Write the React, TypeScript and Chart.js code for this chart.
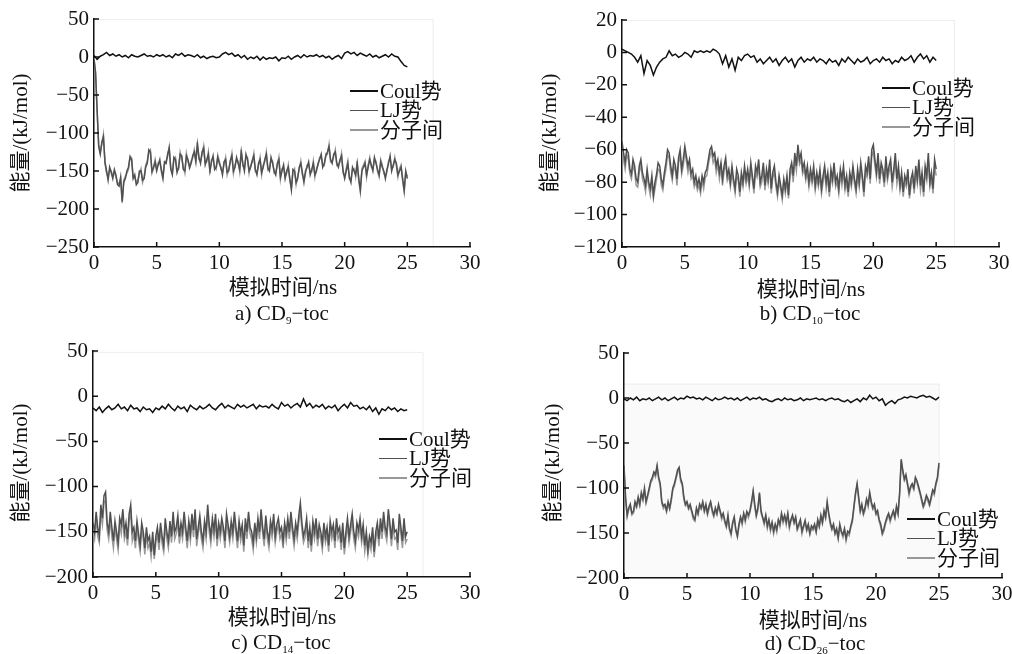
import React, { useEffect, useRef } from "react";
import { Chart, registerables } from "chart.js";

Chart.register(...registerables);

// ---------- sampling grids (ns) ----------
const TIME_COARSE: number[] = Array.from({ length: 101 }, (_, i) => i * 0.25); // Coul series
const TIME_FINE: number[] = Array.from({ length: 201 }, (_, i) => i * 0.125); // LJ / 分子间 series

const SERIES_NAMES = ["Coul势", "LJ势", "分子间"];
const X_TICKS = [0, 5, 10, 15, 20, 25, 30];
const Y_TICKS_A = [50, 0, -50, -100, -150, -200, -250];
const Y_TICKS_B = [20, 0, -20, -40, -60, -80, -100, -120];
const Y_TICKS_C = [50, 0, -50, -100, -150, -200];
const Y_TICKS_D = [50, 0, -50, -100, -150, -200];

// ---------- a) CD9-toc ----------
const COUL_A = [
  2, -3, 1, 3, 6, 2, 4, 1, 3, 0, 2, -1, 3, 1, 0, 2, 4, 1, 2, 0, 3,
  1, 3, 0, 2, -1, 4, 2, 5, 1, 3, 2, 0, 3, -1, 1, -2, 0, 1, -1, 0,
  4, 6, 3, 5, 1, 3, -1, 2, -3, 0, -2, 1, -4, 0, -3, -1, -2, 0, -5, -1,
  -2, 1, -3, 0, 2, -1, 3, 0, 2, 1, 3, 0, 2, -1, 1, -3, 0, 2, -2, 5,
  7, 4, 6, 2, 5, 3, 1, 4, 0, 2, -1, 1, 3, 0, 4, 1, 0, -6, -11, -13,
];
const LJ_A = [
  -3, -20, -70, -118, -128, -112, -105, -138, -150, -162, -145, -152, -160, -148, -155, -168, -170, -158, -190, -165,
  -160, -150, -145, -132, -135, -160, -155, -168, -165, -150, -150, -162, -160, -145, -140, -122, -125, -150, -145, -138, -150,
  -142, -135, -150, -160, -138, -140, -128, -120, -148, -155, -132, -135, -152, -145, -128, -130, -148, -150, -130, -135,
  -146, -140, -130, -125, -138, -115, -132, -140, -125, -120, -142, -135, -128, -150, -138, -130, -148, -145, -132, -140,
  -145, -155, -138, -135, -152, -150, -136, -130, -150, -145, -132, -140, -148, -125, -140, -150, -128, -135, -150, -145,
  -136, -130, -148, -155, -140, -135, -152, -145, -135, -128, -146, -150, -132, -140, -150, -155, -140, -135, -158, -150,
  -142, -160, -150, -145, -160, -175, -148, -150, -165, -160, -145, -140, -152, -165, -150, -145, -138, -155, -148, -140,
  -155, -150, -140, -135, -128, -145, -140, -130, -125, -118, -135, -140, -128, -125, -140, -145, -135, -130, -150, -160,
  -150, -140, -158, -165, -145, -150, -155, -140, -160, -175, -150, -145, -140, -155, -145, -135, -142, -150, -132, -140,
  -148, -155, -138, -145, -150, -160, -148, -140, -130, -150, -142, -135, -140, -155, -150, -145, -160, -175, -150, -160,
];
const INTER_A = [
  -1, -22, -72, -115, -125, -115, -102, -140, -152, -158, -148, -150, -157, -151, -158, -165, -167, -161, -192, -162,
  -157, -153, -148, -130, -133, -158, -158, -165, -162, -153, -147, -165, -158, -142, -137, -125, -122, -153, -147, -135, -147,
  -139, -138, -147, -157, -141, -137, -131, -118, -145, -152, -135, -132, -149, -148, -125, -133, -145, -153, -127, -138,
  -143, -137, -133, -122, -135, -112, -135, -137, -128, -117, -139, -138, -125, -153, -135, -133, -145, -148, -129, -137,
  -148, -152, -141, -132, -155, -147, -139, -127, -153, -142, -135, -137, -151, -122, -143, -147, -131, -132, -153, -142,
  -139, -127, -151, -152, -143, -132, -155, -142, -138, -125, -149, -147, -135, -137, -153, -152, -143, -132, -161, -147,
  -145, -157, -153, -142, -163, -172, -151, -147, -168, -157, -148, -137, -155, -162, -153, -142, -141, -152, -151, -137,
  -158, -147, -143, -132, -131, -142, -143, -127, -128, -115, -138, -137, -131, -122, -143, -142, -138, -127, -153, -157,
  -147, -137, -161, -162, -148, -147, -158, -137, -163, -178, -147, -142, -137, -158, -142, -132, -145, -147, -135, -137,
  -151, -158, -135, -142, -153, -157, -151, -137, -133, -147, -145, -132, -143, -158, -147, -142, -163, -178, -153, -157,
];

// ---------- b) CD10-toc ----------
const COUL_B = [
  2, 1, 0, -1, -3, -6, -2, -13, -5, -8, -14, -9, -6, -4, -3, 1, -2, -1, -3, -2, 0,
  -1, -3, 1, 0, 1, 0, 1, 0, 2, 1, -1, -7, -2, -9, -4, -11, -3, -5, -2, -1,
  -3, -2, -6, -4, -7, -5, -3, -6, -4, -8, -5, -3, -6, -4, -9, -5, -3, -6, -4, -5,
  -3, -6, -4, -5, -7, -4, -6, -5, -8, -4, -6, -3, -5, -7, -4, -6, -5, -3, -7, -5,
  -4, -6, -3, -5, -4, -7, -5, -6, -3, -5, -4, -2, -6, -3, -1, -4, -2, -6, -3, -5,
];
const LJ_B = [
  -55, -62, -68, -60, -62, -72, -75, -66, -70, -78, -80, -70, -66, -74, -78, -82, -72, -80, -84, -76,
  -88, -80, -75, -68, -70, -78, -82, -74, -68, -60, -62, -70, -76, -66, -70, -78, -65, -60, -72, -66, -58,
  -64, -70, -66, -75, -72, -80, -76, -82, -78, -84, -76, -80, -74, -72, -66, -60, -58, -64, -62, -70,
  -66, -74, -68, -78, -70, -65, -76, -72, -80, -70, -78, -84, -72, -76, -86, -74, -80, -70, -78, -72,
  -80, -68, -76, -84, -70, -74, -66, -80, -76, -68, -82, -72, -78, -66, -84, -74, -70, -80, -86, -76,
  -82, -88, -78, -84, -76, -88, -72, -68, -76, -62, -70, -57, -66, -62, -72, -68, -76, -70, -80, -72,
  -78, -70, -82, -74, -80, -72, -84, -76, -70, -80, -74, -86, -72, -78, -68, -80, -76, -84, -72, -78,
  -70, -82, -76, -86, -74, -80, -70, -78, -84, -72, -80, -68, -76, -86, -70, -74, -64, -78, -60, -57,
  -66, -74, -62, -78, -68, -72, -80, -64, -76, -70, -66, -80, -72, -62, -78, -70, -82, -74, -86, -76,
  -80, -72, -88, -78, -74, -84, -70, -78, -66, -82, -74, -86, -70, -76, -62, -80, -74, -84, -66, -72,
];
const INTER_B = [
  -58, -66, -72, -63, -66, -75, -78, -70, -73, -82, -83, -74, -69, -78, -81, -86, -75, -83, -88, -79,
  -90, -84, -78, -72, -73, -82, -85, -77, -72, -63, -65, -74, -79, -70, -73, -82, -68, -64, -75, -70, -61,
  -67, -74, -69, -78, -76, -83, -80, -85, -82, -87, -79, -84, -77, -76, -69, -64, -61, -68, -65, -74,
  -69, -78, -71, -82, -73, -69, -79, -76, -83, -74, -81, -87, -76, -79, -89, -78, -83, -74, -81, -76,
  -83, -72, -79, -87, -74, -77, -70, -83, -80, -71, -85, -76, -81, -70, -87, -77, -74, -83, -89, -79,
  -85, -91, -81, -87, -79, -90, -76, -71, -80, -66, -73, -61, -69, -66, -75, -72, -79, -74, -83, -76,
  -81, -74, -85, -78, -83, -76, -87, -80, -73, -84, -77, -89, -76, -81, -72, -83, -80, -87, -75, -82,
  -74, -85, -80, -89, -78, -83, -74, -81, -87, -76, -83, -72, -79, -89, -74, -77, -68, -81, -64, -61,
  -70, -77, -66, -81, -72, -75, -83, -68, -79, -74, -70, -83, -76, -66, -81, -74, -85, -78, -89, -80,
  -83, -76, -90, -82, -77, -87, -74, -81, -70, -85, -78, -89, -74, -79, -66, -83, -78, -87, -70, -76,
];

// ---------- c) CD14-toc ----------
const COUL_C = [
  -13, -16, -12, -18, -14, -11, -15, -13, -9, -14, -12, -16, -10, -14, -13, -17, -12, -15, -14, -18, -13,
  -15, -11, -14, -9, -13, -16, -11, -14, -12, -17, -10, -13, -15, -11, -14, -12, -9, -13, -15, -11,
  -8, -13, -10, -12, -14, -9, -12, -10, -13, -11, -9, -14, -10, -12, -11, -13, -9, -12, -14, -7,
  -11, -9, -13, -10, -8, -12, -3, -11, -8, -13, -10, -12, -9, -14, -11, -13, -10, -16, -12, -9,
  -13, -7, -11, -10, -14, -12, -15, -11, -17, -13, -20, -14, -16, -12, -15, -13, -17, -14, -16, -15,
];
const LJ_C = [
  -140, -150, -128, -145, -155, -120, -135, -110, -106, -140, -150, -128, -145, -160, -138, -150, -162, -135, -142, -125,
  -150, -140, -158, -130, -120, -150, -145, -160, -138, -152, -165, -140, -150, -168, -145, -160, -155, -172, -150, -176, -155,
  -145, -162, -140, -155, -165, -135, -150, -160, -138, -155, -128, -150, -145, -132, -155, -140, -150, -128, -145, -160,
  -138, -152, -130, -148, -125, -158, -145, -132, -150, -160, -138, -150, -120, -142, -155, -135, -148, -130, -158, -140,
  -150, -135, -145, -160, -130, -142, -155, -138, -150, -128, -145, -160, -138, -152, -142, -165, -135, -150, -128, -145,
  -150, -162, -140, -155, -135, -150, -125, -145, -158, -132, -150, -160, -138, -148, -130, -155, -142, -135, -150, -145,
  -160, -140, -152, -135, -150, -128, -145, -158, -140, -150, -132, -118, -140, -155, -148, -135, -160, -145, -165, -138,
  -150, -135, -158, -142, -150, -162, -140, -155, -145, -165, -138, -150, -142, -160, -135, -150, -145, -162, -140, -168,
  -150, -135, -155, -142, -130, -150, -160, -140, -148, -135, -155, -142, -165, -150, -170, -155, -162, -145, -172, -150,
  -140, -158, -135, -150, -128, -145, -152, -125, -140, -158, -135, -150, -148, -162, -130, -145, -160, -135, -155, -150,
];
const INTER_C = [
  -150, -158, -135, -155, -162, -130, -142, -118, -115, -148, -158, -136, -155, -168, -146, -158, -170, -142, -152, -133,
  -158, -150, -165, -138, -128, -160, -152, -168, -146, -160, -172, -148, -158, -175, -152, -168, -163, -178, -158, -180, -162,
  -153, -170, -147, -163, -172, -143, -158, -168, -146, -162, -136, -158, -152, -140, -163, -148, -158, -136, -152, -168,
  -146, -160, -138, -156, -133, -166, -152, -140, -158, -168, -146, -158, -128, -150, -163, -143, -156, -138, -166, -148,
  -158, -143, -152, -168, -138, -150, -162, -146, -158, -136, -152, -168, -146, -160, -150, -172, -143, -158, -136, -152,
  -158, -170, -148, -162, -143, -158, -133, -152, -166, -140, -158, -168, -146, -156, -138, -162, -150, -143, -158, -152,
  -168, -148, -160, -143, -158, -136, -152, -166, -148, -158, -140, -126, -148, -162, -156, -143, -168, -152, -172, -146,
  -158, -143, -166, -150, -158, -170, -148, -162, -153, -172, -146, -158, -150, -168, -143, -158, -152, -170, -148, -175,
  -158, -143, -162, -150, -138, -158, -168, -148, -156, -143, -162, -150, -172, -158, -176, -162, -170, -152, -178, -158,
  -148, -166, -143, -158, -136, -152, -160, -133, -148, -166, -143, -158, -156, -170, -138, -152, -168, -143, -162, -158,
];

// ---------- d) CD26-toc ----------
const COUL_D = [
  -1, -3, 0, -2, 1, -3, -1, -2, 0, -3, -1, 1, -2, 0, -3, -1, 1, -2, 0, -1, 2,
  0, 1, -1, 0, -2, 1, -1, -3, 0, -2, -1, 1, -1, 0, -2, 0, -3, -1, 1, -2,
  0, -1, 1, -2, -1, -3, -4, -2, -1, -3, 0, -2, -1, -3, -2, 0, -3, -1, -2, -1,
  0, -2, -1, -3, -1, 0, -2, -1, -3, -4, -2, -5, -3, -1, -4, 0, -2, 3, -1, 1,
  -3, -1, -8, -5, -3, -6, -2, -1, 1, 0, 2, 1, 0, 2, 3, 1, 2, 0, -2, 1,
];
const LJ_D = [
  -75, -110, -130, -122, -118, -128, -126, -115, -120, -110, -118, -105, -112, -100, -115, -108, -100, -92, -88, -82,
  -85, -75, -88, -95, -115, -120, -118, -125, -115, -122, -112, -100, -95, -88, -80, -77, -90, -95, -110, -118, -115,
  -122, -118, -125, -132, -135, -122, -128, -118, -122, -115, -125, -118, -128, -120, -115, -124, -130, -122, -128, -118,
  -125, -132, -128, -136, -142, -130, -145, -150, -138, -132, -146, -153, -140, -132, -138, -128, -135, -126, -130, -125,
  -115, -103, -118, -130, -122, -105, -125, -132, -138, -130, -142, -135, -145, -138, -148, -140, -146, -135, -140, -128,
  -136, -130, -138, -128, -142, -135, -130, -138, -132, -145, -140, -135, -148, -142, -136, -146, -140, -150, -142, -145,
  -140, -148, -135, -142, -130, -138, -125, -132, -115, -128, -138, -145, -140, -150, -145, -155, -140, -148, -152, -145,
  -156, -148, -150, -142, -135, -120, -105, -95, -110, -125, -118, -128, -122, -112, -118, -105, -115, -122, -118, -128,
  -125, -135, -140, -150, -145, -138, -132, -128, -135, -130, -125, -132, -120, -128, -105, -68, -80, -90, -85, -95,
  -105, -98, -95, -100, -88, -92, -98, -105, -112, -120, -115, -108, -112, -118, -110, -102, -105, -95, -88, -72,
];
const INTER_D = [
  -78, -113, -132, -124, -121, -130, -128, -118, -122, -113, -120, -108, -114, -103, -117, -110, -103, -94, -91, -84,
  -88, -77, -90, -98, -117, -123, -120, -127, -118, -124, -115, -102, -98, -90, -83, -79, -93, -97, -113, -120, -118,
  -124, -121, -127, -135, -137, -125, -130, -121, -124, -118, -127, -121, -130, -123, -117, -127, -132, -125, -130, -121,
  -127, -135, -130, -139, -144, -133, -147, -153, -140, -135, -148, -155, -143, -134, -141, -130, -138, -128, -133, -127,
  -118, -105, -121, -132, -125, -107, -128, -134, -141, -132, -145, -137, -148, -140, -151, -142, -149, -137, -143, -130,
  -139, -132, -141, -130, -145, -137, -133, -140, -135, -147, -143, -137, -151, -144, -139, -148, -143, -152, -145, -147,
  -143, -150, -138, -144, -133, -140, -128, -134, -118, -130, -141, -147, -143, -152, -148, -157, -143, -150, -155, -147,
  -159, -150, -153, -144, -138, -122, -108, -97, -113, -127, -121, -130, -125, -114, -121, -107, -118, -124, -121, -130,
  -128, -137, -143, -152, -148, -140, -135, -130, -138, -132, -128, -134, -123, -130, -108, -70, -83, -92, -88, -97,
  -108, -100, -98, -102, -91, -94, -101, -107, -115, -122, -118, -110, -115, -120, -113, -104, -108, -97, -91, -75,
];

// ---------- styles ----------
const SERIF = "'Liberation Serif', 'Times New Roman', 'Noto Sans CJK SC', serif";
const MIXED = "'Liberation Serif', 'Noto Sans CJK SC', serif";
const COLORS = ["#111111", "#505050", "#989898"];
const LINE_WIDTHS = [1.5, 1.5, 1.5];
const FONT_SIZE = 21;

type Panel = {
  left: number; top: number; width: number; height: number;
  pad: { left: number; right: number; top: number; bottom: number };
  yTicks: number[]; yStep: number;
  series: number[][];
  frame: { xMax: number; yMax: number; fill: string };
  legend: { x: number; y: number };
  xTitle: { cx: number; cy: number };
  yTitle: { cx: number; cy: number };
  caption: { cx: number; cy: number; pre: string; sub: string };
};

const PANELS: Panel[] = [
  {
    left: 0, top: 0, width: 500, height: 330,
    pad: { left: 34, right: 30, top: 19, bottom: 53 },
    yTicks: Y_TICKS_A, yStep: 50,
    series: [COUL_A, LJ_A, INTER_A],
    frame: { xMax: 27.1, yMax: 50, fill: "#ffffff" },
    legend: { x: 350, y: 91 },
    xTitle: { cx: 283, cy: 287 },
    yTitle: { cx: 20, cy: 133 },
    caption: { cx: 282, cy: 313, pre: "a) ", sub: "9" },
  },
  {
    left: 500, top: 0, width: 512, height: 330,
    pad: { left: 62, right: 13, top: 20, bottom: 53 },
    yTicks: Y_TICKS_B, yStep: 20,
    series: [COUL_B, LJ_B, INTER_B],
    frame: { xMax: 26.5, yMax: 20, fill: "#ffffff" },
    legend: { x: 882, y: 88 },
    xTitle: { cx: 811, cy: 289 },
    yTitle: { cx: 549, cy: 133 },
    caption: { cx: 810, cy: 313, pre: "b) ", sub: "10" },
  },
  {
    left: 0, top: 330, width: 500, height: 324,
    pad: { left: 33, right: 30, top: 21, bottom: 47 },
    yTicks: Y_TICKS_C, yStep: 50,
    series: [COUL_C, LJ_C, INTER_C],
    frame: { xMax: 26.3, yMax: 49, fill: "#ffffff" },
    legend: { x: 379, y: 439 },
    xTitle: { cx: 282, cy: 617 },
    yTitle: { cx: 20, cy: 463 },
    caption: { cx: 281, cy: 642, pre: "c) ", sub: "14" },
  },
  {
    left: 500, top: 330, width: 512, height: 324,
    pad: { left: 64, right: 10, top: 23, bottom: 46 },
    yTicks: Y_TICKS_D, yStep: 50,
    series: [COUL_D, LJ_D, INTER_D],
    frame: { xMax: 25.05, yMax: 16, fill: "#fafafa" },
    legend: { x: 907, y: 519 },
    xTitle: { cx: 813, cy: 620 },
    yTitle: { cx: 552, cy: 463 },
    caption: { cx: 815, cy: 643, pre: "d) ", sub: "26" },
  },
];

const fmt = (v: number | string) => {
  const n = Number(v);
  return n < 0 ? "\u2212" + Math.abs(n) : String(n);
};

const decorPlugin = {
  id: "decor",
  beforeDraw(chart: any, _args: any, opts: any) {
    const { ctx, scales } = chart;
    const x = scales.x, y = scales.y;
    const fr = opts.frame;
    if (!fr) return;
    const l = x.getPixelForValue(0), r = x.getPixelForValue(fr.xMax);
    const t = y.getPixelForValue(fr.yMax), b = y.bottom;
    ctx.save();
    ctx.fillStyle = fr.fill;
    ctx.fillRect(l, t, r - l, b - t);
    ctx.strokeStyle = "#ededed";
    ctx.lineWidth = 1;
    ctx.beginPath();
    ctx.moveTo(l, t + 0.5);
    ctx.lineTo(r - 0.5, t + 0.5);
    ctx.lineTo(r - 0.5, b);
    ctx.stroke();
    ctx.restore();
  },
  afterDraw(chart: any) {
    const { ctx, scales } = chart;
    const x = scales.x, y = scales.y;
    ctx.save();
    ctx.strokeStyle = "#111";
    ctx.lineWidth = 1.5;
    ctx.beginPath();
    x.ticks.forEach((tk: any) => {
      const px = x.getPixelForValue(tk.value);
      ctx.moveTo(px, x.top);
      ctx.lineTo(px, x.top - 5);
    });
    y.ticks.forEach((tk: any) => {
      const py = y.getPixelForValue(tk.value);
      ctx.moveTo(y.right, py);
      ctx.lineTo(y.right + 5, py);
    });
    ctx.stroke();
    ctx.restore();
  },
};

function PanelChart({ p }: { p: Panel }) {
  const ref = useRef<HTMLCanvasElement | null>(null);
  useEffect(() => {
    if (!ref.current) return;
    const datasets = p.series.map((vals, i) => {
      const times = vals.length === TIME_FINE.length ? TIME_FINE : TIME_COARSE;
      return {
        label: SERIES_NAMES[i],
        data: vals.map((v, k) => ({ x: times[k], y: v })),
        borderColor: COLORS[i],
        backgroundColor: COLORS[i],
        borderWidth: LINE_WIDTHS[i],
        pointRadius: 0,
        tension: 0,
        fill: false,
      };
    });
    const yMin = Math.min(...p.yTicks), yMax = Math.max(...p.yTicks);
    const chart = new Chart(ref.current, {
      type: "line",
      data: { datasets },
      plugins: [decorPlugin],
      options: {
        animation: false,
        responsive: false,
        maintainAspectRatio: false,
        devicePixelRatio: 1,
        layout: { padding: p.pad },
        plugins: {
          legend: { display: false },
          tooltip: { enabled: false },
          decor: { frame: p.frame },
        } as any,
        scales: {
          x: {
            type: "linear",
            min: X_TICKS[0],
            max: X_TICKS[X_TICKS.length - 1],
            ticks: {
              stepSize: X_TICKS[1] - X_TICKS[0],
              autoSkip: false,
              maxRotation: 0,
              padding: 4,
              color: "#111",
              font: { family: SERIF, size: FONT_SIZE },
              callback: fmt,
            },
            grid: { display: false, drawTicks: false },
            border: { display: true, color: "#111", width: 1.5 },
            afterFit: (s: any) => {
              s.height = 30;
              s.paddingLeft = 0;
              s.paddingRight = 0;
            },
          },
          y: {
            type: "linear",
            min: yMin,
            max: yMax,
            ticks: {
              stepSize: p.yStep,
              autoSkip: false,
              padding: 5,
              color: "#111",
              font: { family: SERIF, size: FONT_SIZE },
              callback: fmt,
            },
            grid: { display: false, drawTicks: false },
            border: { display: true, color: "#111", width: 1.5 },
            afterFit: (s: any) => {
              s.width = 60;
              s.paddingTop = 0;
              s.paddingBottom = 0;
            },
          },
        },
      } as any,
    });
    return () => chart.destroy();
  }, [p]);
  return (
    <canvas
      ref={ref}
      width={p.width}
      height={p.height}
      style={{ position: "absolute", left: p.left, top: p.top, width: p.width, height: p.height }}
    />
  );
}

const textBase: React.CSSProperties = {
  position: "absolute",
  fontFamily: MIXED,
  fontSize: FONT_SIZE,
  lineHeight: "21px",
  color: "#111",
  whiteSpace: "nowrap",
};

function Overlay({ p }: { p: Panel }) {
  return (
    <>
      {SERIES_NAMES.map((name, i) => (
        <div
          key={name}
          style={{
            ...textBase,
            left: p.legend.x,
            top: p.legend.y + i * 19.5 - 10.5,
            display: "flex",
            alignItems: "center",
            height: 21,
          }}
        >
          <span style={{ display: "inline-block", width: 28, height: 1.6, background: COLORS[i], marginRight: 2 }} />
          <span>{name}</span>
        </div>
      ))}
      <div style={{ ...textBase, left: p.xTitle.cx - 100, width: 200, textAlign: "center", top: p.xTitle.cy - 10.5 }}>
        模拟时间/ns
      </div>
      <div
        style={{
          ...textBase,
          left: p.yTitle.cx,
          top: p.yTitle.cy,
          transform: "translate(-50%, -50%) rotate(-90deg)",
        }}
      >
        能量/(kJ/mol)
      </div>
      <div style={{ ...textBase, left: p.caption.cx - 100, width: 200, textAlign: "center", top: p.caption.cy - 10.5 }}>
        {p.caption.pre}CD
        <span style={{ fontSize: 11, verticalAlign: "-4px" }}>{p.caption.sub}</span>
        {"\u2212toc"}
      </div>
    </>
  );
}

export default function App() {
  return (
    <div
      style={{
        position: "fixed",
        left: 0,
        top: 0,
        width: 1012,
        height: 654,
        background: "#ffffff",
        overflow: "hidden",
      }}
    >
      {PANELS.map((p, i) => (
        <PanelChart key={"c" + i} p={p} />
      ))}
      {PANELS.map((p, i) => (
        <Overlay key={"o" + i} p={p} />
      ))}
    </div>
  );
}
